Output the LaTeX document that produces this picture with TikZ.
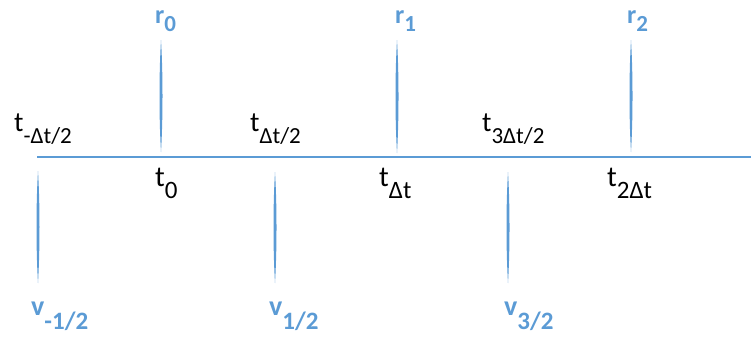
\documentclass[tikz,border=0pt]{standalone}
\usepackage{fontspec}
\setmainfont{Carlito}
\usetikzlibrary{calc}
\definecolor{tickblue}{HTML}{5B9BD5}
% subscript: size, drop, text
\newcommand{\lo}[3]{\raisebox{-#2pt}{\fontsize{#1}{#1}\selectfont #3}}
\newcommand{\spike}[2]{\fill[tickblue] (#1) .. controls ($(#1)!0.3!(#2)+(2,0)$) and ($(#1)!0.7!(#2)+(2,0)$) .. (#2) .. controls ($(#1)!0.7!(#2)+(-2,0)$) and ($(#1)!0.3!(#2)+(-2,0)$) .. (#1) -- cycle;}

\begin{document}
\begin{tikzpicture}[x=1pt,y=-1pt,
  lbl/.style={anchor=base west, inner sep=0pt, font=\fontsize{28}{30}\selectfont},
  qty/.style={lbl, text=tickblue, font=\fontsize{28}{30}\selectfont\bfseries}]

\useasboundingbox (0,0) rectangle (751,340);

% Time axis
\coordinate (axl) at (37,157);
\coordinate (axr) at (751,157);
\draw[tickblue, line width=2.7pt] (axl) -- (axr);

% Upper ticks (r)
\coordinate (r0t) at (161,40);  \coordinate (r0b) at (161,152);
\coordinate (r1t) at (397,40);  \coordinate (r1b) at (397,153);
\coordinate (r2t) at (631,40);  \coordinate (r2b) at (631,152);
\spike{r0t}{r0b}
\spike{r1t}{r1b}
\spike{r2t}{r2b}

% Lower ticks (v)
\coordinate (vat) at (38,171);  \coordinate (vab) at (38,283);
\coordinate (vbt) at (275,172); \coordinate (vbb) at (275,283);
\coordinate (vct) at (508,172); \coordinate (vcb) at (508,283);
\spike{vat}{vab}
\spike{vbt}{vbb}
\spike{vct}{vcb}

% Labels
\node[qty, font=\fontsize{26}{30}\selectfont\bfseries] (r0) at (155,23) {r\lo{23}{9}{0}};
\node[qty, font=\fontsize{26}{30}\selectfont\bfseries] (r1) at (395,23) {r\lo{23}{9}{1}};
\node[qty, font=\fontsize{26}{30}\selectfont\bfseries] (r2) at (627,23) {r\lo{23}{9}{2}};

\node[lbl] (tm) at (14,131) {t\lo{23}{12}{-Δt/2}};
\node[lbl] (th) at (250,131) {t\lo{23}{12}{Δt/2}};
\node[lbl] (t3h) at (482,131) {t\lo{23}{12}{3Δt/2}};

\node[lbl, font=\fontsize{29}{30}\selectfont] (t0) at (155,186) {t\lo{25}{12}{0}};
\node[lbl, font=\fontsize{29}{30}\selectfont] (t1) at (379,186) {t\lo{25}{12}{Δt}};
\node[lbl, font=\fontsize{29}{30}\selectfont] (t2) at (607,186) {t\lo{25}{12}{2Δt}};

\node[qty] (vm) at (31,315) {v\lo{25}{14}{-1/2}};
\node[qty] (vh) at (269,315) {v\lo{25}{14}{1/2}};
\node[qty] (v3h) at (504,315) {v\lo{25}{14}{3/2}};

\end{tikzpicture}
\end{document}
